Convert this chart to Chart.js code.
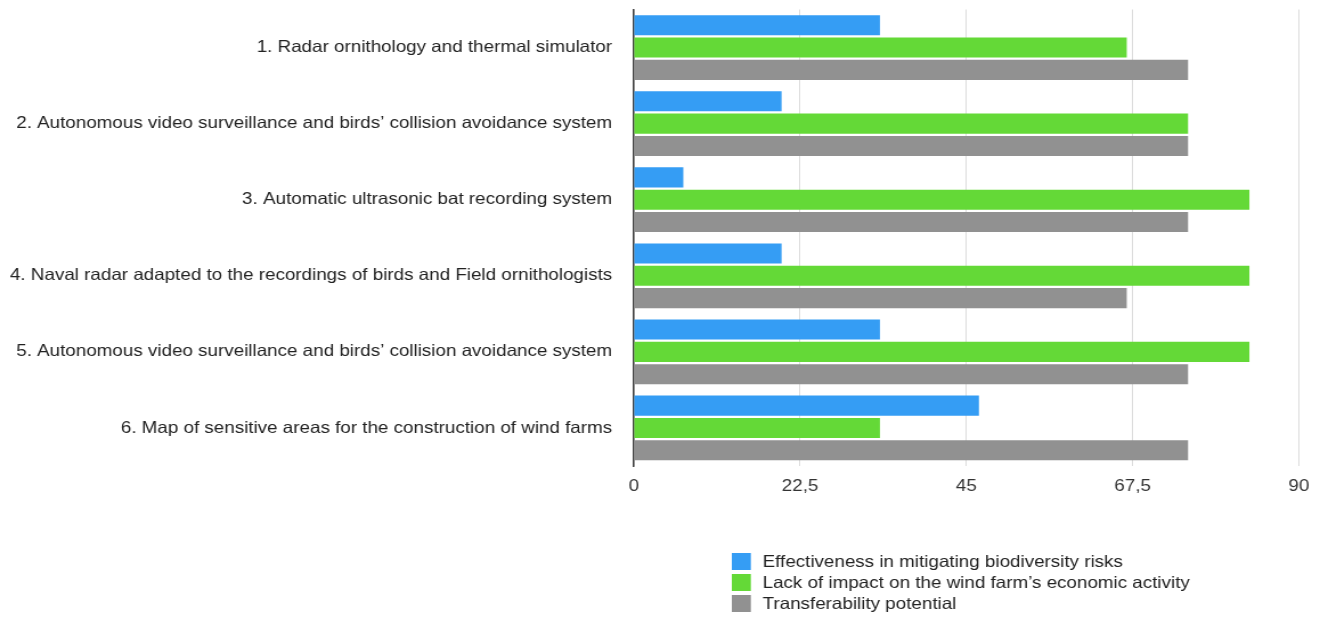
<!DOCTYPE html>
<html>
<head>
<meta charset="utf-8">
<title>Monitoring tools assessment</title>
<script src="https://cdn.jsdelivr.net/npm/chart.js@4.4.1/dist/chart.umd.min.js"></script>
<style>
  html, body { margin: 0; padding: 0; background: #ffffff; overflow: hidden; }
  #page { width: 1320px; height: 619px; position: relative; overflow: hidden; }
  /* the figure is laid out on a narrower canvas and widened to the page width */
  #wrap { width: 1158px; height: 619px; position: absolute; left: 0; top: 0;
          transform: scaleX(1.1399); transform-origin: 0 0; }
</style>
</head>
<body>
<div id="page"><div id="wrap"><canvas id="chart" width="1158" height="619"></canvas></div></div>
<script>
// Tools evaluated
const categories = [
  "1. Radar ornithology and thermal simulator",
  "2. Autonomous video surveillance and birds\u2019 collision avoidance system",
  "3. Automatic ultrasonic bat recording system",
  "4. Naval radar adapted to the recordings of birds and Field ornithologists",
  "5. Autonomous video surveillance and birds\u2019 collision avoidance system",
  "6. Map of sensitive areas for the construction of wind farms"
];

// Scores per criterion
const effectiveness = [33.3, 20, 6.7, 20, 33.3, 46.7];
const lackOfImpact = [66.7, 75, 83.3, 83.3, 83.3, 33.3];
const transferability = [75, 75, 75, 66.7, 75, 75];

const seriesNames = [
  "Effectiveness in mitigating biodiversity risks",
  "Lack of impact on the wind farm\u2019s economic activity",
  "Transferability potential"
];

const xTicks = [0, 22.5, 45, 67.5, 90];

const FONT = "'Liberation Sans', Arial, Helvetica, sans-serif";

// Vertical legend drawn under the plot area
const listLegend = {
  id: 'listLegend',
  afterDraw(chart) {
    const ctx = chart.ctx;
    const left = 642, top = 553, row = 21, boxW = 16.7, boxH = 17;
    ctx.save();
    ctx.font = "16.5px " + FONT;
    ctx.textBaseline = 'middle';
    ctx.textAlign = 'left';
    chart.data.datasets.forEach((ds, i) => {
      const y = top + i * row;
      ctx.fillStyle = ds.backgroundColor;
      ctx.fillRect(left, y, boxW, boxH);
      ctx.fillStyle = '#222222';
      ctx.fillText(ds.label, 669, y + boxH / 2 + 1);
    });
    ctx.restore();
  }
};

new Chart(document.getElementById('chart'), {
  type: 'bar',
  data: {
    labels: categories,
    datasets: [
      { label: seriesNames[0], data: effectiveness, backgroundColor: '#359df4' },
      { label: seriesNames[1], data: lackOfImpact, backgroundColor: '#64d937' },
      { label: seriesNames[2], data: transferability, backgroundColor: '#919191' }
    ]
  },
  options: {
    indexAxis: 'y',
    responsive: false,
    animation: false,
    devicePixelRatio: 1,
    categoryPercentage: 0.88,
    barPercentage: 0.9,
    layout: { padding: { top: 9.5, right: 18.5, bottom: 113, left: 0 } },
    plugins: {
      legend: { display: false },
      tooltip: { enabled: false }
    },
    scales: {
      x: {
        min: 0,
        max: 90,
        afterBuildTicks(scale) {
          scale.ticks = xTicks.map(v => ({ value: v }));
        },
        afterFit(scale) {
          scale.height = 40;
          scale.paddingLeft = 0;
          scale.paddingRight = 0;
        },
        grid: { color: '#dcdcdc', lineWidth: 1, drawTicks: false },
        border: { display: false },
        ticks: {
          padding: 11,
          color: '#333333',
          font: { family: FONT, size: 16.5 },
          callback: v => String(v).replace('.', ',')
        }
      },
      y: {
        afterFit(scale) {
          scale.width = 556;
          scale.paddingTop = 0;
          scale.paddingBottom = 0;
        },
        grid: { display: false, drawTicks: false },
        border: { display: true, color: '#3a3a3a', width: 1.5 },
        ticks: {
          padding: 19,
          color: '#222222',
          font: { family: FONT, size: 16.5 }
        }
      }
    }
  },
  plugins: [listLegend]
});
</script>
</body>
</html>
